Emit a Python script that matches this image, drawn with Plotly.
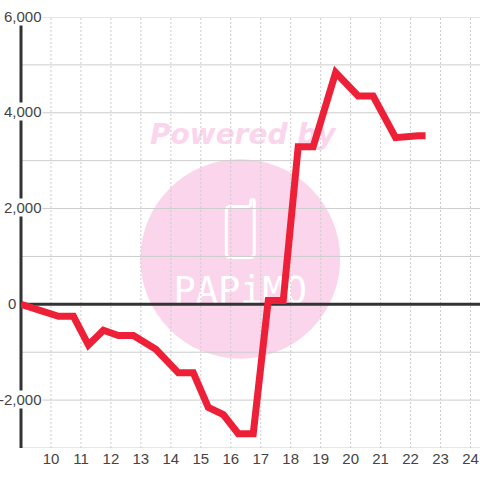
import plotly.graph_objects as go

hours = [9, 10.25, 10.75, 11.25, 11.75, 12.25, 12.75, 13.5, 14.25, 14.75, 15.25, 15.75, 16.25, 16.75,
         17.25, 17.75, 18.25, 18.75, 19.5, 20.25, 20.75, 21.5, 22.25, 22.5]
values = [0, -250, -250, -850, -540, -650, -650, -940, -1430, -1430, -2150, -2300, -2700, -2700,
          80, 80, 3290, 3290, 4840, 4350, 4350, 3480, 3520, 3520]
x_ticks = list(range(10, 25))
y_grid = list(range(-3000, 7000, 1000))
y_labels = [6000, 4000, 2000, 0, -2000]

W, H = 480, 480
L, R, T, B = 20.5, 0, 16.5, 31.5
PW, PH = W - L - R, H - T - B
GRID = "#cccccc"
DARK = "#333333"
RED = "#ee2037"
PINK = "#fbd5ec"
TXT = "#444444"


def px(v):
    return (v - L) / PW


def py(v):
    return 1 - (v - T) / PH


def pt(x, y):
    return f"{px(x):.5f},{py(y):.5f}"


def rect(x0, y0, x1, y1, **kw):
    return dict(type="rect", xref="paper", yref="paper", x0=px(x0), x1=px(x1), y0=py(y0), y1=py(y1),
                layer="below", **kw)


phone_path = (
    f"M {pt(230, 206.5)} L {pt(248, 206.5)} Q {pt(250.5, 206.5)} {pt(250.5, 204)} L {pt(250.5, 201.5)} "
    f"Q {pt(250.5, 199.5)} {pt(252.25, 199.5)} Q {pt(254, 199.5)} {pt(254, 201.5)} L {pt(254, 253)} "
    f"Q {pt(254, 257.5)} {pt(250, 257.5)} L {pt(230, 257.5)} Q {pt(226, 257.5)} {pt(226, 253)} "
    f"L {pt(226, 210.5)} Q {pt(226, 206.5)} {pt(230, 206.5)} Z"
)

shapes = [
    dict(type="circle", xref="paper", yref="paper", x0=px(140), x1=px(340), y0=py(359), y1=py(159),
         fillcolor=PINK, line_width=0, layer="below"),
    dict(type="path", xref="paper", yref="paper", path=phone_path, layer="below",
         line=dict(color="white", width=3), fillcolor=PINK),
    rect(140, 116, 345, 148, line_width=0, fillcolor="rgba(0,0,0,0)",
         label=dict(text="Powered by", textposition="middle center",
                    font=dict(family="DejaVu Sans", size=28, color=PINK, weight="bold", style="italic"))),
    rect(165, 268, 315, 308, line_width=0, fillcolor="rgba(0,0,0,0)",
         label=dict(text="PAPiMO", textposition="middle center",
                    font=dict(family="DejaVu Sans Mono", size=37, color="white"))),
]
for t in x_ticks:
    shapes.append(dict(type="line", xref="x", yref="paper", x0=t, x1=t, y0=0, y1=1, layer="below",
                       line=dict(color=GRID, width=1, dash="2px,2px")))
for v in y_grid:
    if v == 0:
        continue
    shapes.append(dict(type="line", xref="paper", yref="y", x0=0, x1=1, y0=v, y1=v, layer="below",
                       line=dict(color=GRID, width=1)))
shapes.append(dict(type="line", xref="paper", yref="y", x0=0, x1=1, y0=0, y1=0, layer="below",
                   line=dict(color=DARK, width=3)))
shapes.append(dict(type="line", xref="paper", yref="paper", x0=0, x1=0, y0=0, y1=1, layer="below",
                   line=dict(color=DARK, width=3)))

annotations = []
for v in y_labels:
    right = 16 if v == 0 else 43
    annotations.append(dict(xref="paper", yref="y", x=px(right), y=v, xanchor="right", yanchor="middle",
                            text=f"{v:,}", showarrow=False, bgcolor="white", borderpad=0, yshift=1,
                            font=dict(family="Liberation Sans", size=15, color=TXT)))

fig = go.Figure(go.Scatter(x=hours, y=values, mode="lines", cliponaxis=False,
                           line=dict(color=RED, width=7), hoverinfo="skip"))
fig.update_layout(
    width=W, height=H, margin=dict(l=L, r=R, t=T, b=B), showlegend=False,
    paper_bgcolor="white", plot_bgcolor="white", shapes=shapes, annotations=annotations,
    xaxis=dict(range=[9, 9 + PW / 30], tickvals=x_ticks, ticktext=[str(t) for t in x_ticks],
               showgrid=False, zeroline=False, showline=False, ticks="",
               tickfont=dict(family="Liberation Sans", size=15, color=TXT)),
    yaxis=dict(range=[-3000, 6000], showgrid=False, zeroline=False, showline=False, ticks="",
               showticklabels=False),
)
fig.write_html("out.html", config=dict(displayModeBar=False),
               post_script="document.body.style.margin='0';")
